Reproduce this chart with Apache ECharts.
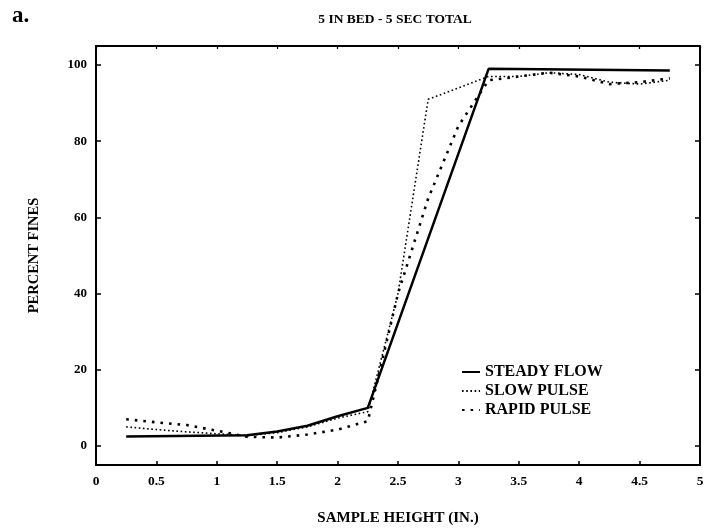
<!DOCTYPE html>
<html>
<head>
<meta charset="utf-8">
<script src="https://cdn.jsdelivr.net/npm/echarts@6/dist/echarts.min.js"></script>
<style>
html,body{margin:0;padding:0;background:#fff;}
#c{width:707px;height:531px;}
</style>
</head>
<body>
<div id="c"></div>
<script>
// ---- data ----
var steadyX = [0.25, 1.25, 1.5, 1.75, 2.0, 2.25, 3.25, 4.75];
var steadyY = [2.5, 2.8, 3.8, 5.3, 7.8, 10, 99, 98.6];

var slowX = [0.25, 0.5, 0.75, 1.0, 1.25, 1.5, 1.75, 2.0, 2.25, 2.5, 2.75, 3.0, 3.25, 3.5, 3.75, 4.0, 4.25, 4.5, 4.75];
var slowY = [5, 4.3, 3.7, 3.2, 2.7, 3.5, 5, 7.3, 9, 40, 91, 94, 97, 97, 98, 97.5, 95.5, 95, 96];

var rapidX = [0.25, 0.5, 0.75, 1.0, 1.25, 1.5, 1.75, 2.0, 2.25, 2.5, 2.75, 3.0, 3.25, 3.5, 3.75, 4.0, 4.25, 4.5, 4.75];
var rapidY = [7, 6.2, 5.5, 4, 2.4, 2.2, 3, 4.3, 6.5, 40, 65, 84, 96, 97, 98, 97, 95, 95.5, 96.5];

var yTicks = [0, 20, 40, 60, 80, 100];
var seriesNames = ['STEADY FLOW', 'SLOW PULSE', 'RAPID PULSE'];
var titleText = '5 IN BED - 5 SEC TOTAL';
var xName = 'SAMPLE HEIGHT (IN.)';
var yName = 'PERCENT FINES';

function pairs(xs, ys) { return xs.map(function (x, i) { return [x, ys[i]]; }); }

var font = 'Liberation Serif';
var chart = echarts.init(document.getElementById('c'), null, {renderer: 'canvas'});
chart.setOption({
  animation: false,
  backgroundColor: '#fff',
  title: [
    {text: titleText, left: 390, top: 8, textAlign: 'center',
     textStyle: {fontFamily: font, fontWeight: 'bold', fontSize: 13.5, color: '#000'}},
    {text: 'a.', left: 7, top: 0,
     textStyle: {fontFamily: font, fontWeight: 'bold', fontSize: 23, color: '#000'}}
  ],
  grid: {left: 96, right: 7, top: 46, bottom: 61, containLabel: false},
  legend: {
    orient: 'vertical', left: 456, top: 359, itemWidth: 18, itemHeight: 10, itemGap: 3,
    itemStyle: {opacity: 0},
    data: seriesNames.map(function (n) { return {name: n}; }),
    textStyle: {fontFamily: font, fontWeight: 'bold', fontSize: 16, color: '#000'}
  },
  xAxis: [
    {type: 'value', min: 0, max: 5, interval: 0.5, position: 'bottom',
     name: xName, nameLocation: 'middle', nameGap: 46,
     nameTextStyle: {fontFamily: font, fontWeight: 'bold', fontSize: 15, color: '#000'},
     axisLine: {show: true, onZero: false, lineStyle: {color: '#000', width: 2}},
     axisTick: {show: true, inside: true, length: 4, lineStyle: {color: '#000', width: 1.5}},
     axisLabel: {fontFamily: font, fontWeight: 'bold', fontSize: 13.5, color: '#000', margin: 10},
     splitLine: {show: false}},
    {type: 'value', min: 0, max: 5, interval: 0.5, position: 'top',
     axisLine: {show: true, onZero: false, lineStyle: {color: '#000', width: 2}},
     axisTick: {show: true, inside: true, length: 3, lineStyle: {color: '#000', width: 1.2}},
     axisLabel: {show: false}, splitLine: {show: false}}
  ],
  yAxis: [
    {type: 'value', min: -5, max: 105, position: 'left',
     name: yName, nameLocation: 'middle', nameGap: 54, nameRotate: 90,
     nameTextStyle: {fontFamily: font, fontWeight: 'bold', fontSize: 14.5, color: '#000'},
     axisLine: {show: true, onZero: false, lineStyle: {color: '#000', width: 2}},
     axisTick: {show: true, inside: true, length: 5, customValues: yTicks, lineStyle: {color: '#000', width: 1.5}},
     axisLabel: {customValues: yTicks, fontFamily: font, fontWeight: 'bold', fontSize: 13, color: '#000', margin: 9},
     splitLine: {show: false}},
    {type: 'value', min: -5, max: 105, position: 'right',
     axisLine: {show: true, onZero: false, lineStyle: {color: '#000', width: 2}},
     axisTick: {show: true, inside: true, length: 5, customValues: yTicks, lineStyle: {color: '#000', width: 1.5}},
     axisLabel: {show: false}, splitLine: {show: false}}
  ],
  series: [
    {name: seriesNames[0], type: 'line', xAxisIndex: 0, yAxisIndex: 0, showSymbol: false, symbol: 'none',
     data: pairs(steadyX, steadyY), lineStyle: {color: '#000', width: 2.5, type: 'solid'},
     itemStyle: {color: '#000'}},
    {name: seriesNames[1], type: 'line', xAxisIndex: 0, yAxisIndex: 0, showSymbol: false, symbol: 'none',
     data: pairs(slowX, slowY), lineStyle: {color: '#000', width: 1.6, type: [1.6, 2.6]},
     itemStyle: {color: '#000'}},
    {name: seriesNames[2], type: 'line', xAxisIndex: 0, yAxisIndex: 0, showSymbol: false, symbol: 'none',
     data: pairs(rapidX, rapidY), lineStyle: {color: '#000', width: 2.6, type: [2.6, 6]},
     itemStyle: {color: '#000'}}
  ]
});
</script>
</body>
</html>
